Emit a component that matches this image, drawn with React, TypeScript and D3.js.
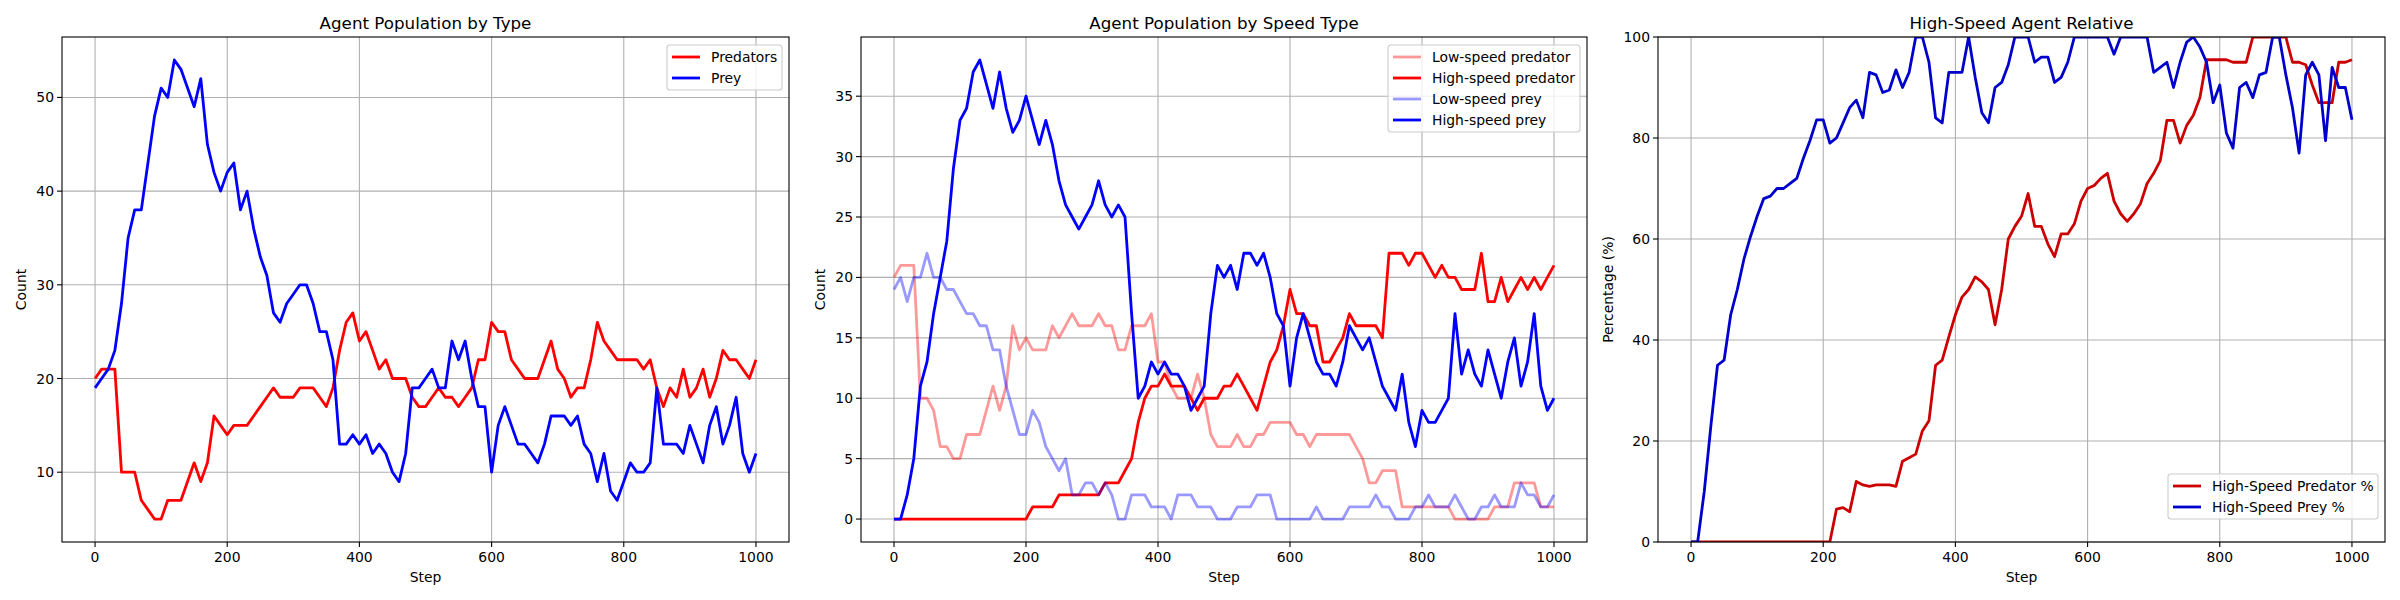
import * as d3 from "d3"

// sampled every 10 steps, 0..1000
const stepsPerSample = 10

const predators = [
  20, 21, 21, 21, 10, 10, 10, 7, 6, 5,
  5, 7, 7, 7, 9, 11, 9, 11, 16, 15,
  14, 15, 15, 15, 16, 17, 18, 19, 18, 18,
  18, 19, 19, 19, 18, 17, 19, 23, 26, 27,
  24, 25, 23, 21, 22, 20, 20, 20, 18, 17,
  17, 18, 19, 18, 18, 17, 18, 19, 22, 22,
  26, 25, 25, 22, 21, 20, 20, 20, 22, 24,
  21, 20, 18, 19, 19, 22, 26, 24, 23, 22,
  22, 22, 22, 21, 22, 19, 17, 19, 18, 21,
  18, 19, 21, 18, 20, 23, 22, 22, 21, 20,
  22,
]
const prey = [
  19, 20, 21, 23, 28, 35, 38, 38, 43, 48,
  51, 50, 54, 53, 51, 49, 52, 45, 42, 40,
  42, 43, 38, 40, 36, 33, 31, 27, 26, 28,
  29, 30, 30, 28, 25, 25, 22, 13, 13, 14,
  13, 14, 12, 13, 12, 10, 9, 12, 19, 19,
  20, 21, 19, 19, 24, 22, 24, 20, 17, 17,
  10, 15, 17, 15, 13, 13, 12, 11, 13, 16,
  16, 16, 15, 16, 13, 12, 9, 12, 8, 7,
  9, 11, 10, 10, 11, 19, 13, 13, 13, 12,
  15, 13, 11, 15, 17, 13, 15, 18, 12, 10,
  12,
]
const lowSpeedPredator = [
  20, 21, 21, 21, 10, 10, 9, 6, 6, 5,
  5, 7, 7, 7, 9, 11, 9, 11, 16, 14,
  15, 14, 14, 14, 16, 15, 16, 17, 16, 16,
  16, 17, 16, 16, 14, 14, 16, 16, 16, 17,
  13, 13, 11, 10, 10, 10, 12, 10, 7, 6,
  6, 6, 7, 6, 6, 7, 7, 8, 8, 8,
  8, 7, 7, 6, 7, 7, 7, 7, 7, 7,
  6, 5, 3, 3, 4, 4, 4, 1, 1, 1,
  1, 1, 1, 1, 1, 0, 0, 0, 0, 0,
  0, 1, 1, 1, 3, 3, 3, 3, 1, 1,
  1,
]
const highSpeedPredator = [
  0, 0, 0, 0, 0, 0, 0, 0, 0, 0,
  0, 0, 0, 0, 0, 0, 0, 0, 0, 0,
  0, 1, 1, 1, 1, 2, 2, 2, 2, 2,
  2, 2, 3, 3, 3, 4, 5, 8, 10, 11,
  11, 12, 11, 11, 11, 10, 9, 10, 10, 10,
  11, 11, 12, 11, 10, 9, 11, 13, 14, 16,
  19, 17, 17, 16, 16, 13, 13, 14, 15, 17,
  16, 16, 16, 16, 15, 22, 22, 22, 21, 22,
  22, 21, 20, 21, 20, 20, 19, 19, 19, 22,
  18, 18, 20, 18, 19, 20, 19, 20, 19, 20,
  21,
]
const lowSpeedPrey = [
  19, 20, 18, 20, 20, 22, 20, 20, 19, 19,
  18, 17, 17, 16, 16, 14, 14, 11, 9, 7,
  7, 9, 8, 6, 5, 4, 5, 2, 2, 3,
  3, 2, 3, 2, 0, 0, 2, 2, 2, 1,
  1, 1, 0, 2, 2, 2, 1, 1, 1, 0,
  0, 0, 1, 1, 1, 2, 2, 2, 0, 0,
  0, 0, 0, 0, 1, 0, 0, 0, 0, 1,
  1, 1, 1, 2, 1, 1, 0, 0, 0, 1,
  1, 2, 1, 1, 1, 2, 1, 0, 0, 1,
  1, 2, 1, 1, 1, 3, 2, 2, 1, 1,
  2,
]
const highSpeedPrey = [
  0, 0, 2, 5, 11, 13, 17, 20, 23, 29,
  33, 34, 37, 38, 36, 34, 37, 34, 32, 33,
  35, 33, 31, 33, 31, 28, 26, 25, 24, 25,
  26, 28, 26, 25, 26, 25, 17, 10, 11, 13,
  12, 13, 12, 12, 11, 9, 10, 11, 17, 21,
  20, 21, 19, 22, 22, 21, 22, 20, 17, 16,
  11, 15, 17, 15, 13, 12, 12, 11, 13, 16,
  15, 14, 15, 13, 11, 10, 9, 12, 8, 6,
  9, 8, 8, 9, 10, 17, 12, 14, 12, 11,
  14, 12, 10, 13, 15, 11, 13, 17, 11, 9,
  10,
]
const highSpeedPredatorPct = [
  0, 0, 0, 0, 0, 0, 0, 0, 0, 0,
  0, 0, 0, 0, 0, 0, 0, 0, 0, 0,
  0, 0, 6.5, 6.8, 6, 12, 11.3, 11, 11.3, 11.3,
  11.3, 11, 16, 16.7, 17.4, 22, 24, 35, 36, 40.6,
  45, 48.5, 50, 52.5, 51.5, 50, 43, 50, 60, 62.5,
  64.5, 69, 62.5, 62.5, 59, 56.5, 61, 61, 63, 67.5,
  70, 70.6, 72, 73, 67.5, 65, 63.5, 65, 67, 71,
  73, 75.5, 83.5, 83.5, 79, 82.5, 84.5, 88, 95.5, 95.5,
  95.5, 95.5, 95, 95, 95, 100, 100, 100, 100, 100,
  100, 95, 95, 94.5, 90.5, 87, 87, 87, 95, 95,
  95.5,
]
const highSpeedPreyPct = [
  0, 0, 10, 23, 35, 36, 45, 50, 56, 60.5,
  64.5, 68, 68.5, 70, 70, 71, 72, 76, 79.5, 83.6,
  83.6, 79, 80, 83, 86, 87.5, 84, 93, 92.5, 89,
  89.5, 93.5, 90, 93, 100, 100, 95, 84, 83, 93,
  93, 93, 100, 92, 85, 83, 90, 91, 94.5, 100,
  100, 100, 95, 96, 96, 91, 92, 95, 100, 100,
  100, 100, 100, 100, 96.6, 100, 100, 100, 100, 100,
  93, 94, 95, 90, 95, 99, 100, 98, 95, 87,
  90.5, 81, 78, 90, 91, 88, 92.5, 93, 100, 100,
  92.5, 86, 77, 92.5, 95, 92.5, 79.5, 94, 90, 90,
  83.6,
]

const xTicks = [0, 200, 400, 600, 800, 1000]

type Series = { label: string; values: number[]; color: string; opacity?: number }
type Legend = { x: number; y: number; w: number }

const FONT = "DejaVu Sans, sans-serif"

function Panel({ left, right, top, bottom, title, ylabel, ylabelX, yDomain, yTicks, series, legend }: {
  left: number; right: number; top: number; bottom: number
  title: string; ylabel: string; ylabelX: number
  yDomain: [number, number]; yTicks: number[]
  series: Series[]; legend: Legend
}) {
  const x = d3.scaleLinear().domain([-50, 1050]).range([left, right])
  const y = d3.scaleLinear().domain(yDomain).range([bottom, top])
  const line = (vals: number[]) =>
    d3.line<number>().x((_, i) => x(i * stepsPerSample)).y((d) => y(d))(vals) ?? ""
  const clipId = `clip-${left}`
  const rowH = 21
  const legendH = series.length * rowH + 3
  return (
    <g fontFamily={FONT}>
      <defs>
        <clipPath id={clipId}>
          <rect x={left} y={top} width={right - left} height={bottom - top} />
        </clipPath>
      </defs>
      {xTicks.map((t) => (
        <line key={"gx" + t} x1={x(t)} x2={x(t)} y1={top} y2={bottom} stroke="#b0b0b0" strokeWidth={1.1} />
      ))}
      {yTicks.map((t) => (
        <line key={"gy" + t} x1={left} x2={right} y1={y(t)} y2={y(t)} stroke="#b0b0b0" strokeWidth={1.1} />
      ))}
      <g clipPath={`url(#${clipId})`}>
        {series.map((s) => (
          <path key={s.label} d={line(s.values)} fill="none" stroke={s.color} strokeOpacity={s.opacity ?? 1}
            strokeWidth={2.8} strokeLinejoin="round" />
        ))}
      </g>
      <rect x={left} y={top} width={right - left} height={bottom - top} fill="none" stroke="#000" strokeWidth={1.1} />
      {xTicks.map((t) => (
        <g key={"tx" + t}>
          <line x1={x(t)} x2={x(t)} y1={bottom} y2={bottom + 5} stroke="#000" strokeWidth={1.1} />
          <text x={x(t)} y={bottom + 20} textAnchor="middle" fontSize={13.9}>{t}</text>
        </g>
      ))}
      {yTicks.map((t) => (
        <g key={"ty" + t}>
          <line x1={left - 5} x2={left} y1={y(t)} y2={y(t)} stroke="#000" strokeWidth={1.1} />
          <text x={left - 8} y={y(t) + 5} textAnchor="end" fontSize={13.9}>{t}</text>
        </g>
      ))}
      <text x={(left + right) / 2} y={top - 8} textAnchor="middle" fontSize={16.7}>{title}</text>
      <text x={(left + right) / 2} y={bottom + 40} textAnchor="middle" fontSize={13.9}>Step</text>
      <text transform={`translate(${ylabelX},${(top + bottom) / 2}) rotate(-90)`} textAnchor="middle" fontSize={13.9}>{ylabel}</text>
      <g transform={`translate(${legend.x},${legend.y})`}>
        <rect width={legend.w} height={legendH} rx={3} fill="#fff" fillOpacity={0.8} stroke="#cccccc" strokeWidth={1.1} />
        {series.map((s, i) => (
          <g key={s.label} transform={`translate(0,${12 + i * rowH})`}>
            <line x1={5} x2={33} y1={0} y2={0} stroke={s.color} strokeOpacity={s.opacity ?? 1} strokeWidth={2.8} />
            <text x={44} y={5} fontSize={13.9}>{s.label}</text>
          </g>
        ))}
      </g>
    </g>
  )
}

export default function App() {
  const top = 37
  const bottom = 542
  return (
    <svg width={2400} height={600} style={{ display: "block", margin: -8, background: "#fff" }}>
      <rect width={2400} height={600} fill="#fff" />
      <Panel left={62} right={789} top={top} bottom={bottom}
        title="Agent Population by Type" ylabel="Count" ylabelX={26}
        yDomain={[2.55, 56.45]} yTicks={[10, 20, 30, 40, 50]}
        series={[
          { label: "Predators", values: predators, color: "#ff0000" },
          { label: "Prey", values: prey, color: "#0000ff" },
        ]}
        legend={{ x: 667, y: 45, w: 115 }} />
      <Panel left={861} right={1587} top={top} bottom={bottom}
        title="Agent Population by Speed Type" ylabel="Count" ylabelX={825}
        yDomain={[-1.9, 39.9]} yTicks={[0, 5, 10, 15, 20, 25, 30, 35]}
        series={[
          { label: "Low-speed predator", values: lowSpeedPredator, color: "#ff0000", opacity: 0.4 },
          { label: "High-speed predator", values: highSpeedPredator, color: "#ff0000" },
          { label: "Low-speed prey", values: lowSpeedPrey, color: "#0000ff", opacity: 0.4 },
          { label: "High-speed prey", values: highSpeedPrey, color: "#0000ff" },
        ]}
        legend={{ x: 1388, y: 45, w: 192 }} />
      <Panel left={1658} right={2385} top={top} bottom={bottom}
        title="High-Speed Agent Relative" ylabel="Percentage (%)" ylabelX={1613}
        yDomain={[0, 100]} yTicks={[0, 20, 40, 60, 80, 100]}
        series={[
          { label: "High-Speed Predator %", values: highSpeedPredatorPct, color: "#cc0000" },
          { label: "High-Speed Prey %", values: highSpeedPreyPct, color: "#0000cc" },
        ]}
        legend={{ x: 2168, y: 474, w: 210 }} />
    </svg>
  )
}
